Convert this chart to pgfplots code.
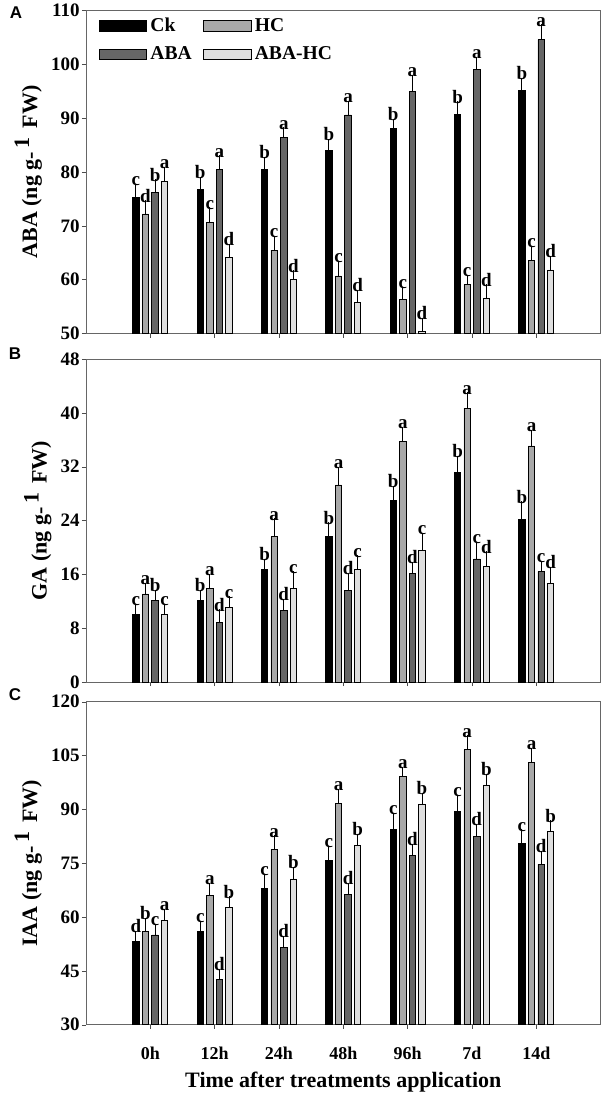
\documentclass[border=0pt]{standalone}
\usepackage{pgfplots}
\pgfplotsset{compat=1.18}
\usepackage{pgfplotstable}
\usepackage{fontspec}
\setmainfont{Liberation Serif}
\newfontfamily\arialfont{Liberation Sans}

\definecolor{cHC}{gray}{0.66}
\definecolor{cABA}{gray}{0.40}
\definecolor{cAH}{gray}{0.87}

\pgfplotstableread{
x ck ckE ckL hc hcE hcL aba abaE abaL ah ahE ahL
0 75.2 1.8 c 72.2 1.7 d 76.2 1.6 b 78.2 2.0 a
1 76.7 1.6 b 70.6 2.0 c 80.5 1.8 a 64.1 1.7 d
2 80.5 1.5 b 65.5 1.8 c 86.4 1.1 a 60.1 0.8 d
3 84.0 1.3 b 60.7 2.0 c 90.6 1.8 a 55.7 1.6 d
4 88.1 1.0 b 56.3 1.6 c 95.0 2.2 a 50.4 1.7 d
5 90.7 1.6 b 59.1 1.0 c 99.0 1.6 a 56.6 1.7 d
6 95.2 1.5 b 63.6 1.9 c 104.6 2.0 a 61.8 1.8 d
}\tabA

\pgfplotstableread{
x ck ckE ckL hc hcE hcL aba abaE abaL ah ahE ahL
0 10.1 0.9 c 13.1 1.0 a 12.1 1.0 b 10.1 0.9 c
1 12.1 1.0 b 13.9 1.5 a 8.8 1.35 d 11.1 1.0 c
2 16.7 1.0 b 21.6 2.1 a 10.7 1.0 d 13.9 1.9 c
3 21.6 1.5 b 29.3 2.0 a 13.6 2.0 d 16.7 1.5 c
4 27.0 1.5 b 35.7 1.6 a 16.2 1.0 d 19.5 2.0 c
5 31.2 1.8 b 40.7 1.7 a 18.3 1.9 c 17.2 1.6 d
6 24.2 2.0 b 35.1 1.7 a 16.4 1.0 c 14.7 1.8 d
}\tabB

\pgfplotstableread{
x ck ckE ckL hc hcE hcL aba abaE abaL ah ahE ahL
0 53.2 1.8 d 56.0 2.5 b 55.0 1.9 c 59.0 2.1 a
1 56.0 1.8 c 65.9 2.4 a 42.7 1.7 d 62.7 1.8 b
2 68.0 2.8 c 78.9 2.6 a 51.5 2.0 d 70.6 2.1 b
3 75.7 3.0 c 91.7 2.8 a 66.4 1.9 d 79.9 2.1 b
4 84.3 3.5 c 99.1 1.6 a 77.1 2.1 d 91.5 1.9 b
5 89.4 3.4 c 106.6 2.8 a 82.4 2.3 d 96.8 1.9 b
6 80.6 2.6 c 103.0 2.9 a 74.7 2.6 d 83.8 1.9 b
}\tabC

\pgfplotsset{
  panel/.style={
    width=257.5pt, height=161.6pt, scale only axis,
    anchor=north west,
    ybar=1.6pt, bar width=3.2pt,
    xmin=-1, xmax=7, xtick={0,...,6},
    tick align=outside, tick pos=left, major tick length=2pt,
    axis line style={black!60}, tick style={black!70},
    tick label style={font=\fontsize{9.5}{10}\selectfont\bfseries},
    yticklabel style={inner sep=1pt},
    /pgf/number format/assume math mode=true,
    ylabel style={font=\fontsize{11}{12}\selectfont\bfseries},
    point meta=explicit symbolic,
    nodes near coords,
    every node near coord/.append style={font=\fontsize{9.5}{9.5}\selectfont\bfseries, anchor=south, inner sep=1pt, shift={(axis direction cs:0,\myerr)}},
    error bars/y dir=plus, error bars/y explicit,
    error bars/error bar style={black, line width=0.5pt},
    error bars/error mark options={black, mark size=2.2pt, line width=0.5pt},
  },
  barimg/.style={legend image code/.code={\draw[##1, draw=black, line width=0.5pt] (0pt,-2.6pt) rectangle (24pt,2.6pt);}},
}

\begin{document}
\begin{tikzpicture}
\path (-43pt,5pt) rectangle (260pt,-544.5pt);

\begin{axis}[panel, name=A, at={(0,0)},
  ymin=50, ymax=110, ytick={50,60,...,110},
  xticklabels={,,,,,,},
  ylabel={ABA (ng g-\,\raisebox{0.8ex}{1}\, FW)},
  legend columns=2, legend cell align=left,
  legend style={at={(rel axis cs:0.012,1.0)}, anchor=north west, draw=none, fill=none,
    font=\fontsize{9.8}{10}\selectfont\bfseries, nodes={inner sep=1.5pt}, row sep=3pt,
    /tikz/every even column/.append style={column sep=4pt}},
]
\addplot[fill=black, draw=black, barimg, visualization depends on=\thisrow{ckE}\as\myerr] table[x=x, y=ck, y error=ckE, meta=ckL] {\tabA};
\addlegendentry{Ck}
\addplot[fill=cHC, draw=black, barimg, visualization depends on=\thisrow{hcE}\as\myerr] table[x=x, y=hc, y error=hcE, meta=hcL] {\tabA};
\addlegendentry{HC}
\addplot[fill=cABA, draw=black, barimg, visualization depends on=\thisrow{abaE}\as\myerr] table[x=x, y=aba, y error=abaE, meta=abaL] {\tabA};
\addlegendentry{ABA}
\addplot[fill=cAH, draw=black, barimg, visualization depends on=\thisrow{ahE}\as\myerr] table[x=x, y=ah, y error=ahE, meta=ahL] {\tabA};
\addlegendentry{ABA-HC}
\end{axis}
\node[font=\arialfont\bfseries\fontsize{8.5}{9}\selectfont, xshift=-35pt, yshift=-1pt] at (A.north west) {A};

\begin{axis}[panel, name=B, at={(0,-174.4pt)},
  ymin=0, ymax=48, ytick={0,8,...,48},
  xticklabels={,,,,,,},
  ylabel={GA (ng g-\,\raisebox{0.8ex}{1}\, FW)},
]
\addplot[fill=black, draw=black, visualization depends on=\thisrow{ckE}\as\myerr] table[x=x, y=ck, y error=ckE, meta=ckL] {\tabB};
\addplot[fill=cHC, draw=black, visualization depends on=\thisrow{hcE}\as\myerr] table[x=x, y=hc, y error=hcE, meta=hcL] {\tabB};
\addplot[fill=cABA, draw=black, visualization depends on=\thisrow{abaE}\as\myerr] table[x=x, y=aba, y error=abaE, meta=abaL] {\tabB};
\addplot[fill=cAH, draw=black, visualization depends on=\thisrow{ahE}\as\myerr] table[x=x, y=ah, y error=ahE, meta=ahL] {\tabB};
\end{axis}
\node[font=\arialfont\bfseries\fontsize{8.5}{9}\selectfont, xshift=-35.5pt, yshift=2.9pt] at (B.north west) {B};

\begin{axis}[panel, name=C, at={(0,-345.8pt)},
  ymin=30, ymax=120, ytick={30,45,...,120},
  xticklabels={0h,12h,24h,48h,96h,7d,14d},
  xticklabel style={anchor=base, yshift=-15.5pt, font=\fontsize{9}{10}\selectfont\bfseries},
  ylabel={IAA (ng g-\,\raisebox{0.8ex}{1}\, FW)},
  xlabel={Time after treatments application},
  every axis x label/.style={at={(axis description cs:0.5,0)}, anchor=base, yshift=-31.5pt, font=\fontsize{11}{12}\selectfont\bfseries},
]
\addplot[fill=black, draw=black, visualization depends on=\thisrow{ckE}\as\myerr] table[x=x, y=ck, y error=ckE, meta=ckL] {\tabC};
\addplot[fill=cHC, draw=black, visualization depends on=\thisrow{hcE}\as\myerr] table[x=x, y=hc, y error=hcE, meta=hcL] {\tabC};
\addplot[fill=cABA, draw=black, visualization depends on=\thisrow{abaE}\as\myerr] table[x=x, y=aba, y error=abaE, meta=abaL] {\tabC};
\addplot[fill=cAH, draw=black, visualization depends on=\thisrow{ahE}\as\myerr] table[x=x, y=ah, y error=ahE, meta=ahL] {\tabC};
\end{axis}
\node[font=\arialfont\bfseries\fontsize{8.5}{9}\selectfont, xshift=-35.5pt, yshift=3.3pt] at (C.north west) {C};
\end{tikzpicture}
\end{document}
